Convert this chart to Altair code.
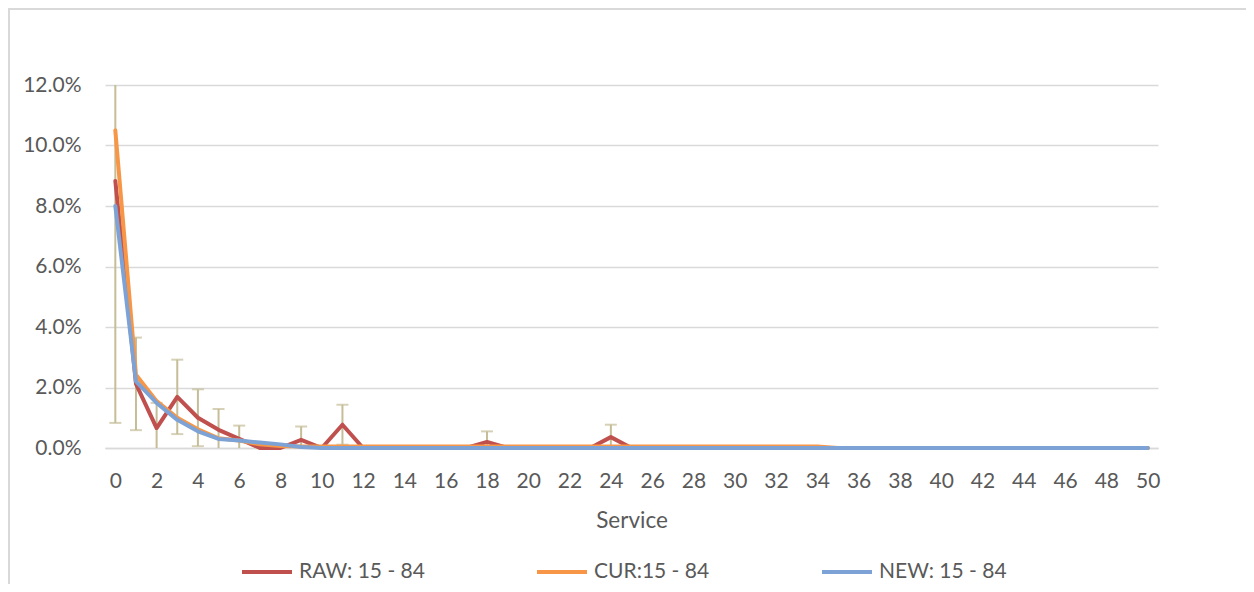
import altair as alt
import pandas as pd

# ---- data (values in percent) ----
service = [0, 1, 2, 3, 4, 5, 6, 7, 8, 9, 10, 11, 12, 13, 14, 15, 16, 17, 18, 19, 20,
           21, 22, 23, 24, 25, 26, 27, 28, 29, 30, 31, 32, 33, 34, 35, 36, 37, 38, 39, 40,
           41, 42, 43, 44, 45, 46, 47, 48, 49, 50]

raw = [8.83, 2.12, 0.66, 1.69, 1.00, 0.60, 0.30, 0.00, 0.00, 0.27, 0.00,
       0.77, 0.00, 0.00, 0.00, 0.00, 0.00, 0.00, 0.20, 0.00, 0.00,
       0.00, 0.00, 0.00, 0.36, 0.00, 0.00, 0.00, 0.00, 0.00, 0.00,
       0.00, 0.00, 0.00, 0.00, 0.00, 0.00, 0.00, 0.00, 0.00, 0.00,
       0.00, 0.00, 0.00, 0.00, 0.00, 0.00, 0.00, 0.00, 0.00, 0.00]

cur = [10.50, 2.42, 1.55, 1.00, 0.62, 0.32, 0.25, 0.12, 0.07, 0.05, 0.05,
       0.05, 0.05, 0.05, 0.05, 0.05, 0.05, 0.05, 0.05, 0.05, 0.05,
       0.05, 0.05, 0.05, 0.05, 0.05, 0.05, 0.05, 0.05, 0.05, 0.05,
       0.05, 0.05, 0.05, 0.05, 0.00, 0.00, 0.00, 0.00, 0.00, 0.00,
       0.00, 0.00, 0.00, 0.00, 0.00, 0.00, 0.00, 0.00, 0.00, 0.00]

new = [8.00, 2.20, 1.49, 0.93, 0.55, 0.30, 0.25, 0.18, 0.12, 0.03, 0.00,
       0.00, 0.00, 0.00, 0.00, 0.00, 0.00, 0.00, 0.00, 0.00, 0.00,
       0.00, 0.00, 0.00, 0.00, 0.00, 0.00, 0.00, 0.00, 0.00, 0.00,
       0.00, 0.00, 0.00, 0.00, 0.00, 0.00, 0.00, 0.00, 0.00, 0.00,
       0.00, 0.00, 0.00, 0.00, 0.00, 0.00, 0.00, 0.00, 0.00, 0.00]

err_service = [0, 1, 2, 3, 4, 5, 6, 9, 11, 18, 24]
err_value = [8.00, 1.53, 0.83, 1.23, 0.94, 0.69, 0.44, 0.44, 0.66, 0.35, 0.41]

series_names = ["RAW: 15 - 84", "CUR:15 - 84", "NEW: 15 - 84"]
series_colors = ["#C0504D", "#F79646", "#7DA3D6"]
x_ticks = [0, 2, 4, 6, 8, 10, 12, 14, 16, 18, 20, 22, 24, 26, 28, 30, 32, 34,
           36, 38, 40, 42, 44, 46, 48, 50]
y_ticks = [0.0, 0.02, 0.04, 0.06, 0.08, 0.10, 0.12]

# ---- tables ----
rows = []
for name, vals in zip(series_names, [raw, cur, new]):
    for s, v in zip(service, vals):
        rows.append({"Service": s, "value": v / 100.0, "series": name})
lines_df = pd.DataFrame(rows)

raw_by_service = dict(zip(service, raw))
err_rows = []
for s, e in zip(err_service, err_value):
    c = raw_by_service[s]
    err_rows.append({"Service": s, "lo": (c - e) / 100.0, "hi": (c + e) / 100.0})
err_df = pd.DataFrame(err_rows)

FONT = "Lato"
TXT = "#595959"
GRID = "#D9D9D9"
ERRC = "#C4BD97"

x_scale = alt.Scale(domain=[-0.5, 50.5], nice=False, zero=False)
y_scale = alt.Scale(domain=[0, 0.12], nice=False)

x_axis = alt.Axis(values=x_ticks, title="Service", grid=False, ticks=False,
                  domain=True, domainColor=GRID, domainWidth=1.5,
                  labelFont=FONT, labelFontSize=21, labelColor=TXT, labelPadding=22,
                  titleFont=FONT, titleFontSize=22.5, titleColor=TXT,
                  titleFontWeight="normal", titlePadding=18, labelFlush=False)
y_axis = alt.Axis(values=y_ticks, format=".1%", title=None, grid=True,
                  gridColor=GRID, gridWidth=1.5, ticks=False, domain=False,
                  labelFont=FONT, labelFontSize=21, labelColor=TXT, labelPadding=24)

base = alt.Chart(lines_df)

lines = base.mark_line(strokeWidth=4, strokeJoin="round", strokeCap="round").encode(
    x=alt.X("Service:Q", scale=x_scale, axis=x_axis),
    y=alt.Y("value:Q", scale=y_scale, axis=y_axis),
    color=alt.Color("series:N",
                    scale=alt.Scale(domain=series_names, range=series_colors),
                    sort=series_names,
                    legend=alt.Legend(title=None, orient="none", direction="horizontal",
                                      legendX=135, legendY=460,
                                      symbolType="stroke", symbolSize=2500,
                                      symbolStrokeWidth=4, columnPadding=104,
                                      labelOffset=5,
                                      labelFont=FONT, labelFontSize=21,
                                      labelColor=TXT)),
)

err_base = alt.Chart(err_df)
err_rule = err_base.mark_rule(color=ERRC, strokeWidth=2, clip=True).encode(
    x=alt.X("Service:Q", scale=x_scale),
    y=alt.Y("lo:Q", scale=y_scale),
    y2="hi:Q",
)
cap_lo = err_base.mark_tick(color=ERRC, orient="horizontal", size=12, thickness=2,
                            clip=True).encode(
    x=alt.X("Service:Q", scale=x_scale),
    y=alt.Y("lo:Q", scale=y_scale),
)
cap_hi = err_base.mark_tick(color=ERRC, orient="horizontal", size=12, thickness=2,
                            clip=True).encode(
    x=alt.X("Service:Q", scale=x_scale),
    y=alt.Y("hi:Q", scale=y_scale),
)

frame = alt.Chart(pd.DataFrame({"k": [0]})).mark_rect(
    fill="transparent", stroke=GRID, strokeWidth=2).encode(
    x=alt.value(-96), x2=alt.value(1143), y=alt.value(-76), y2=alt.value(520))

chart = alt.layer(frame, err_rule, cap_lo, cap_hi, lines).properties(
    width=1053, height=363,
    autosize=alt.AutoSizeParams(type="none"),
    padding={"left": 97, "top": 77, "right": 88, "bottom": 136},
).configure_view(stroke=None)

chart.save("out.html", embed_options={"renderer": "svg", "actions": False})
